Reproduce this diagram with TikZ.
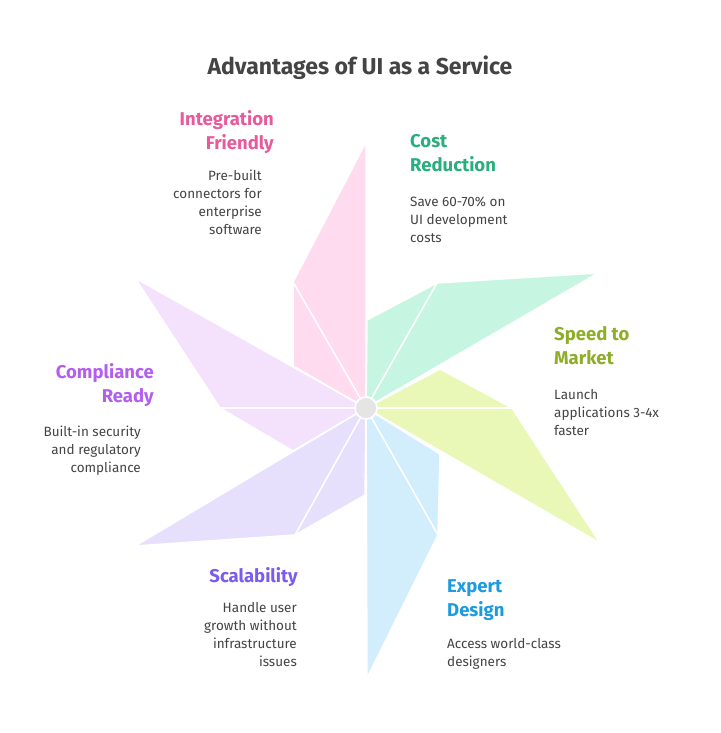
\documentclass[tikz,border=0pt]{standalone}
\usepackage{fontspec}
\setmainfont{Fira Sans}
\begin{document}
\begin{tikzpicture}[x=1pt,y=-1pt,
  head/.style={font=\fontsize{18.5}{24}\selectfont\bfseries},
  bodyr/.style={font=\fontsize{13.5}{18}\selectfont,color=textc,align=right,anchor=north east,inner sep=0},
  bodyl/.style={font=\fontsize{13.5}{18}\selectfont,color=textc,align=left,anchor=north west,inner sep=0},
  headr/.style={head,align=right,anchor=north east,inner sep=0},
  headl/.style={head,align=left,anchor=north west,inner sep=0},
  blade/.style={draw=white,line width=1.5pt,line join=round},
  split/.style={draw=white,line width=1.5pt}]
\definecolor{textc}{HTML}{444444}
\definecolor{cpink}{HTML}{FFDBEF}\definecolor{tpink}{HTML}{E85A9C}
\definecolor{cgreen}{HTML}{C6F6E1}\definecolor{tgreen}{HTML}{2BAE7E}
\definecolor{cyel}{HTML}{E9F8B7}\definecolor{tyel}{HTML}{8EAD28}
\definecolor{cblue}{HTML}{D2EEFD}\definecolor{tblue}{HTML}{1E9BDF}
\definecolor{clav}{HTML}{E6E0FC}\definecolor{tlav}{HTML}{7B5CEF}
\definecolor{cpur}{HTML}{F4E2FC}\definecolor{tpur}{HTML}{B45EEE}
\useasboundingbox[fill=white] (0,0) rectangle (720,733);
\coordinate (C) at (366,408);
% blades
\coordinate (p1) at (366,142); \coordinate (p2) at (293,282); \coordinate (p3) at (293,366);
\coordinate (g1) at (367,320); \coordinate (g2) at (437,283); \coordinate (g3) at (598,273);
\coordinate (y1) at (440,369); \coordinate (y2) at (512,408); \coordinate (y3) at (600,543);
\coordinate (b1) at (440,454); \coordinate (b2) at (438,535); \coordinate (b3) at (367,678);
\coordinate (l1) at (365,495); \coordinate (l2) at (295,535); \coordinate (l3) at (135,546);
\coordinate (u1) at (293,451); \coordinate (u2) at (220,408); \coordinate (u3) at (135,278);
\fill[cpink,blade] (C) -- (p1) -- (p2) -- (p3) -- cycle;
\fill[cgreen,blade] (C) -- (g1) -- (g2) -- (g3) -- cycle;
\fill[cyel,blade] (C) -- (y1) -- (y2) -- (y3) -- cycle;
\fill[cblue,blade] (C) -- (b1) -- (b2) -- (b3) -- cycle;
\fill[clav,blade] (C) -- (l1) -- (l2) -- (l3) -- cycle;
\fill[cpur,blade] (C) -- (u1) -- (u2) -- (u3) -- cycle;
\foreach \q in {p2,g2,y2,b2,l2,u2} \draw[split] (C) -- (\q);
\node[circle,fill=black!10,draw=white,line width=1.5pt,minimum size=22pt,inner sep=0] (hub) at (C) {};
% title
\node[font=\fontsize{23}{28}\selectfont\bfseries,color=textc] (title) at (360,68) {Advantages of UI as a Service};
% texts
\node[headr,color=tpink] (h1) at (274,110) {Integration\\Friendly};
\node[bodyr] (t1) at (262,170) {Pre-built\\connectors for\\enterprise\\software};
\node[headl,color=tgreen] (h2) at (410,134) {Cost\\Reduction};
\node[bodyl] (t2) at (410,197) {Save 60-70\% on\\UI development\\costs};
\node[headl,color=tyel] (h3) at (554,326) {Speed to\\Market};
\node[bodyl] (t3) at (554,389) {Launch\\applications 3-4x\\faster};
\node[headr,color=tpur] (h4) at (154,363) {Compliance\\Ready};
\node[bodyr] (t4) at (141,426) {Built-in security\\and regulatory\\compliance};
\node[headr,color=tlav] (h5) at (298,567) {Scalability};
\node[bodyr] (t5) at (297,602) {Handle user\\growth without\\infrastructure\\issues};
\node[headl,color=tblue] (h6) at (447,579) {Expert\\Design};
\node[bodyl] (t6) at (447,638) {Access world-class\\designers};
\end{tikzpicture}
\end{document}
